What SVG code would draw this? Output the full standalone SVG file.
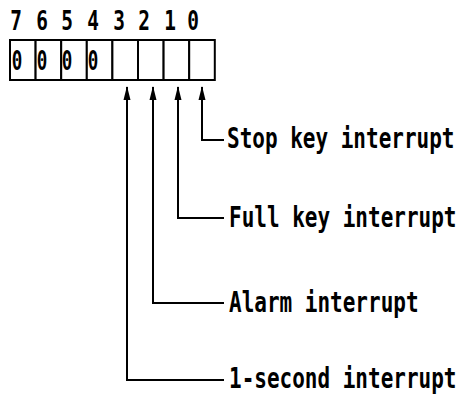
<svg xmlns="http://www.w3.org/2000/svg" width="459" height="395" viewBox="0 0 459 395">
<style>
.t{font-family:"DejaVu Sans Mono","Liberation Mono",monospace;font-weight:bold;fill:#000}
.lbl{font-size:28px}
.dig{font-size:27px;text-anchor:middle}
.cell{fill:#fff;stroke:#000;stroke-width:2}
.conn{fill:none;stroke:#000;stroke-width:2}
</style>
<defs>
<marker id="ah" viewBox="0 0 14 8" refX="13" refY="4" markerWidth="14" markerHeight="8" markerUnits="userSpaceOnUse" orient="auto">
<path d="M0,0.5 L14,4 L0,7.5 z" fill="#000"/>
</marker>
</defs>
<rect width="459" height="395" fill="#fff"/>
<g id="register">
<g id="bit-numbers">
<text class="t dig" transform="translate(16,30) scale(0.72,1)">7</text>
<text class="t dig" transform="translate(42,30) scale(0.72,1)">6</text>
<text class="t dig" transform="translate(67,30) scale(0.72,1)">5</text>
<text class="t dig" transform="translate(93,30) scale(0.72,1)">4</text>
<text class="t dig" transform="translate(119,30) scale(0.72,1)">3</text>
<text class="t dig" transform="translate(144,30) scale(0.72,1)">2</text>
<text class="t dig" transform="translate(170,30) scale(0.72,1)">1</text>
<text class="t dig" transform="translate(193,30) scale(0.72,1)">0</text>
</g>
<g id="cells">
<rect class="cell" x="10" y="40" width="25.6" height="40"/>
<rect class="cell" x="35.6" y="40" width="25.6" height="40"/>
<rect class="cell" x="61.2" y="40" width="25.6" height="40"/>
<rect class="cell" x="86.8" y="40" width="25.6" height="40"/>
<rect class="cell" x="112.4" y="40" width="25.6" height="40"/>
<rect class="cell" x="138" y="40" width="25.6" height="40"/>
<rect class="cell" x="163.6" y="40" width="25.6" height="40"/>
<rect class="cell" x="189.2" y="40" width="25.6" height="40"/>
</g>
<g id="cell-values">
<text class="t dig" transform="translate(17,70) scale(0.65,1)">0</text>
<text class="t dig" transform="translate(42,70) scale(0.65,1)">0</text>
<text class="t dig" transform="translate(67,70) scale(0.65,1)">0</text>
<text class="t dig" transform="translate(93,70) scale(0.65,1)">0</text>
</g>
</g>
<g id="connectors">
<polyline class="conn" points="224,140 202,140 202,87" marker-end="url(#ah)"/>
<polyline class="conn" points="224,218 178,218 178,87" marker-end="url(#ah)"/>
<polyline class="conn" points="224,303 153,303 153,87" marker-end="url(#ah)"/>
<polyline class="conn" points="224,380 127,380 127,87" marker-end="url(#ah)"/>
</g>
<g id="label-stop">
<text class="t lbl" transform="translate(227,148) scale(0.75,1)">Stop key interrupt</text>
</g>
<g id="label-full">
<text class="t lbl" transform="translate(229,227) scale(0.75,1)">Full key interrupt</text>
</g>
<g id="label-alarm">
<text class="t lbl" transform="translate(229,312) scale(0.75,1)">Alarm interrupt</text>
</g>
<g id="label-1sec">
<text class="t lbl" transform="translate(229,388) scale(0.75,1)">1-second interrupt</text>
</g>
</svg>
